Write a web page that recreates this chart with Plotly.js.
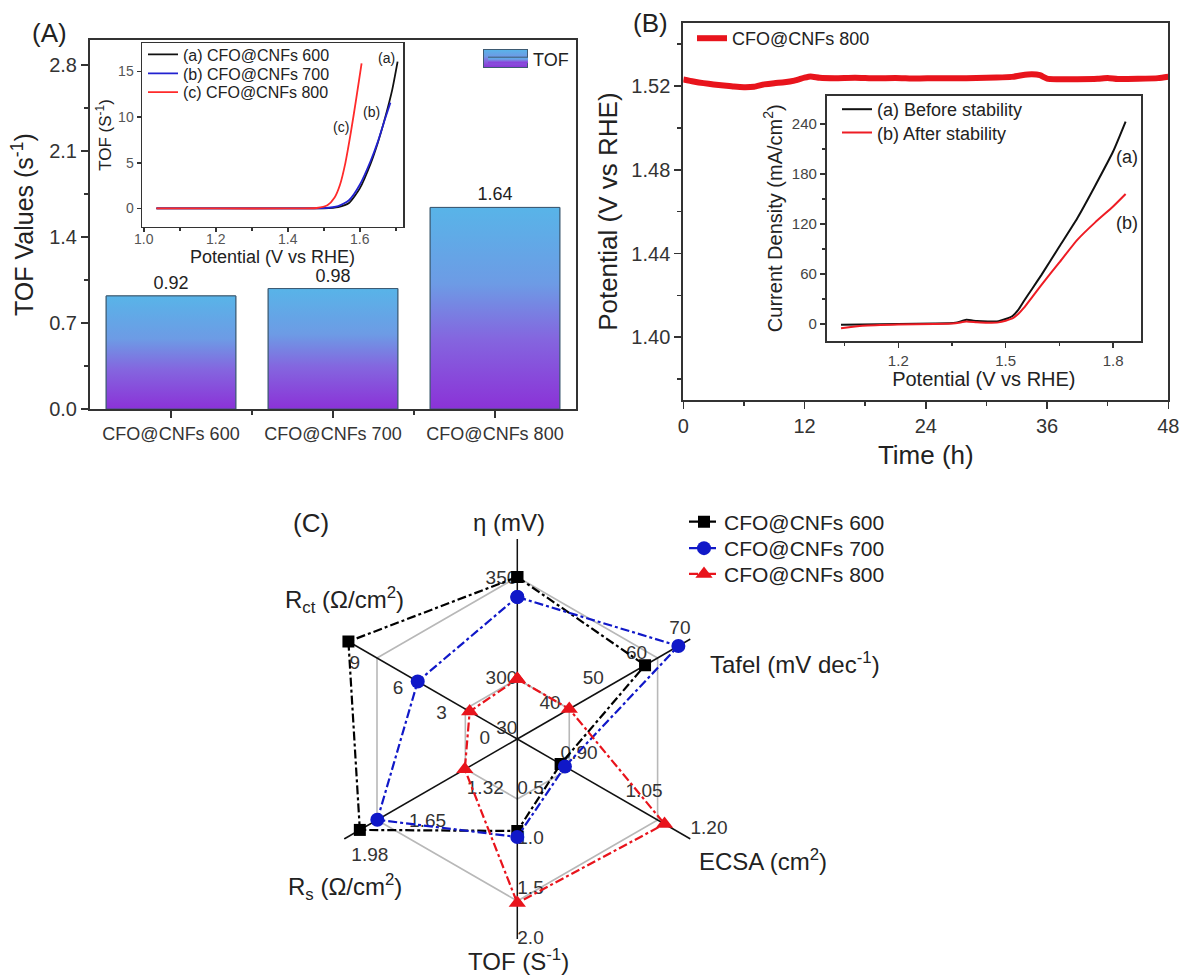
<!DOCTYPE html>
<html><head><meta charset="utf-8">
<script src="https://cdn.plot.ly/plotly-3.0.1.min.js"></script>
<style>html,body{margin:0;padding:0;background:#fff}#chart{width:1181px;height:977px}</style>
</head><body><div id="chart"></div>
<script>
// ---------- Panel A : TOF bars ----------
const tofCategories = ['CFO@CNFs 600', 'CFO@CNFs 700', 'CFO@CNFs 800'];
const tofValues = [0.92, 0.98, 1.64];
const tofTickVals = [0, 0.7, 1.4, 2.1, 2.8];
const tofTickText = ['0.0', '0.7', '1.4', '2.1', '2.8'];

// ---------- Panel A inset : TOF vs potential ----------
const insetA600X = [1.035, 1.2, 1.4, 1.5, 1.54, 1.57, 1.6, 1.63, 1.65, 1.67, 1.69, 1.705];
const insetA600Y = [0, 0, 0, 0.02, 0.15, 0.6, 2.2, 4.9, 7.2, 9.9, 13.0, 16.1];
const insetA700X = [1.035, 1.2, 1.4, 1.5, 1.54, 1.57, 1.6, 1.63, 1.65, 1.67, 1.685];
const insetA700Y = [0, 0, 0, 0.03, 0.25, 0.9, 2.6, 5.2, 7.3, 9.8, 11.6];
const insetA800X = [1.035, 1.2, 1.4, 1.48, 1.51, 1.53, 1.545, 1.56, 1.575, 1.59, 1.605];
const insetA800Y = [0, 0, 0, 0.05, 0.35, 1.2, 2.6, 5.0, 8.3, 12.0, 15.9];
const insetANames = ['(a) CFO@CNFs 600', '(b) CFO@CNFs 700', '(c) CFO@CNFs 800'];

// ---------- Panel B : stability ----------
const stabTime = [0,1,2,3,4,5,6,7,8,9,10,11,12,12.6,13.5,15,17,19,21,23,25,27,29,31,32.5,33.5,34.5,35.3,36,37,39,41,42,43,45,47,48];
const stabPotential = [1.5232,1.5222,1.5214,1.5208,1.5203,1.5198,1.5195,1.5197,1.5208,1.5214,1.5218,1.5226,1.5240,1.5246,1.5240,1.5238,1.5240,1.5237,1.5239,1.5236,1.5238,1.5237,1.5239,1.5241,1.5244,1.5252,1.5256,1.5252,1.5236,1.5233,1.5233,1.5235,1.5239,1.5234,1.5235,1.5238,1.5245];

// ---------- Panel B inset : LSV before / after ----------
const lsvPotential = [1.04,1.1,1.2,1.3,1.36,1.39,1.42,1.45,1.48,1.5,1.52,1.535,1.55,1.575,1.6,1.65,1.7,1.75,1.8,1.835];
const lsvBefore = [-1,-0.5,0,0.5,1.5,5,3.5,3,3.5,6,10,17,27,43,59,93,127,166,207,243];
const lsvAfter = [-5,-2,-0.5,0,1,3,2,1.5,2,4,7,12,19,33,47,74,101,122,141,156];

// ---------- Panel C : radar ----------
const radarAxes = ['η', 'Tafel', 'ECSA', 'TOF', 'Rs', 'Rct'];
const radarAngle = [0, 60, 120, 180, 240, 300];
const radarMin = [270, 30, 0.80, 0.0, 0.99, 0];
const radarMax = [370, 70, 1.20, 2.0, 1.98, 12];
const radar600 = [351, 59.5, 0.90, 0.92, 1.89, 11.7];
const radar700 = [341, 67.2, 0.91, 0.98, 1.79, 6.9];
const radar800 = [300, 42, 1.14, 1.64, 1.29, 3.3];
const radarTicks = [
  ['300', '350'],
  ['30', '40', '50', '60', '70'],
  ['0.90', '1.05', '1.20'],
  ['0.5', '1.0', '1.5', '2.0'],
  ['1.32', '1.65', '1.98'],
  ['0', '3', '6', '9']
];
const radarGrid = [0.3, 0.81];

// ---------- helpers (layout only) ----------
const W = 1181, H = 977;
const px = x => x / W;
const py = y => 1 - y / H;
const FONT = 'Liberation Sans, Arial, sans-serif';
const AX = '#333';

const traces = [];

// Panel A bars (base bars carry value labels)
traces.push({
  type: 'bar', x: tofCategories.map((c, i) => i), y: tofValues, width: 0.8,
  marker: {color: '#7590e2', line: {color: '#3d5a72', width: 1}},
  text: tofValues.map(v => v.toFixed(2)), textposition: 'outside',
  textfont: {size: 18, color: '#222'}, cliponaxis: false,
  showlegend: false, hoverinfo: 'skip', xaxis: 'x', yaxis: 'y'
});
const barScale = [[0, '#8b32d7'], [0.35, '#8466df'], [0.62, '#6d9be5'], [1, '#58b4e8']];
tofValues.forEach((v, i) => {
  traces.push({
    type: 'scatter', mode: 'lines', xaxis: 'x', yaxis: 'y',
    x: [i - 0.4, i - 0.4, i + 0.4, i + 0.4, i - 0.4],
    y: [0, v, v, 0, 0],
    fill: 'toself',
    fillgradient: {type: 'vertical', colorscale: barScale},
    line: {color: '#3d5a72', width: 1},
    name: 'TOF', showlegend: i === 0, legend: 'legend', hoverinfo: 'skip'
  });
});

// Panel A inset
const insetALegends = ['legend2', 'legend6', 'legend7'];
[[insetA600X, insetA600Y, '#111111'], [insetA700X, insetA700Y, '#2222d0'], [insetA800X, insetA800Y, '#ff2a2a']].forEach((d, k) => {
  traces.push({
    type: 'scatter', mode: 'lines', x: d[0], y: d[1], xaxis: 'x2', yaxis: 'y2',
    line: {color: d[2], width: 1.8, shape: 'spline', smoothing: 0.6},
    name: insetANames[k], legend: insetALegends[k], hoverinfo: 'skip'
  });
});

// Panel B
traces.push({
  type: 'scatter', mode: 'lines', x: stabTime, y: stabPotential, xaxis: 'x3', yaxis: 'y3',
  line: {color: '#e8141c', width: 6, shape: 'spline', smoothing: 0.5},
  name: 'CFO@CNFs 800', legend: 'legend3', hoverinfo: 'skip'
});

// Panel B inset
traces.push({
  type: 'scatter', mode: 'lines', x: lsvPotential, y: lsvBefore, xaxis: 'x4', yaxis: 'y4',
  line: {color: '#111111', width: 2, shape: 'spline', smoothing: 0.5},
  name: '(a) Before stability', legend: 'legend4', hoverinfo: 'skip'
});
traces.push({
  type: 'scatter', mode: 'lines', x: lsvPotential, y: lsvAfter, xaxis: 'x4', yaxis: 'y4',
  line: {color: '#ee1c24', width: 2, shape: 'spline', smoothing: 0.5},
  name: '(b) After stability', legend: 'legend8', hoverinfo: 'skip'
});

// Panel C radar: grid hexagons
radarGrid.forEach(g => {
  traces.push({
    type: 'scatterpolar', subplot: 'polar', mode: 'lines',
    r: radarAngle.concat([radarAngle[0]]).map(() => g),
    theta: radarAngle.concat([radarAngle[0] + 360]),
    line: {color: '#b8b8b8', width: 1.6}, showlegend: false, hoverinfo: 'skip', cliponaxis: false
  });
});
// spokes
radarAngle.forEach(a => {
  traces.push({
    type: 'scatterpolar', subplot: 'polar', mode: 'lines', r: [0, 1], theta: [a, a],
    line: {color: '#111', width: 1.5}, showlegend: false, hoverinfo: 'skip', cliponaxis: false
  });
});
// tick labels along each axis (an invisible marker sets the label gap)
const tickPos = ['middle left', 'top left', 'top right', 'middle right', 'bottom right', 'middle left'];
const tickGap = [0, 0, 0, 0, 10, 42];
radarTicks.forEach((tk, i) => {
  traces.push({
    type: 'scatterpolar', subplot: 'polar', mode: tickGap[i] ? 'markers+text' : 'text',
    r: tk.map(t => (parseFloat(t) - radarMin[i]) / (radarMax[i] - radarMin[i])),
    theta: tk.map(() => radarAngle[i]), text: tk, textposition: tickPos[i],
    marker: {size: tickGap[i] || 1, color: 'rgba(0,0,0,0)'},
    textfont: {size: 19, color: '#333'}, showlegend: false, hoverinfo: 'skip', cliponaxis: false
  });
});
// data series
const norm = arr => arr.map((v, i) => (v - radarMin[i]) / (radarMax[i] - radarMin[i]));
const closeR = arr => { const n = norm(arr); return n.concat([n[0]]); };
const closeT = radarAngle.concat([radarAngle[0] + 360]);
[[radar600, '#000000', 'square', 12, 'CFO@CNFs 600', 'legend5'],
 [radar700, '#1018c8', 'circle', 14, 'CFO@CNFs 700', 'legend9'],
 [radar800, '#e8141c', 'triangle-up', 15, 'CFO@CNFs 800', 'legend10']].forEach(s => {
  traces.push({
    type: 'scatterpolar', subplot: 'polar', mode: 'lines+markers',
    r: closeR(s[0]), theta: closeT,
    line: {color: s[1], width: 2.2, dash: 'dashdot'},
    marker: {color: s[1], symbol: s[2], size: s[3]},
    name: s[4], legend: s[5], hoverinfo: 'skip', cliponaxis: false
  });
});

const axisBase = {
  showline: true, linecolor: AX, linewidth: 2, mirror: true, showgrid: false, zeroline: false,
  ticks: 'outside', ticklen: 7, tickwidth: 1.5, tickcolor: AX, automargin: false
};
const legendBase = {bgcolor: 'rgba(0,0,0,0)', borderwidth: 0, xanchor: 'left', yanchor: 'top', tracegroupgap: 0};
const lg = (x, y, size) => Object.assign({}, legendBase, {x: px(x), y: py(y), font: {size: size, color: '#222'}});

const ann = (text, x, y, size, extra) => Object.assign({
  text: text, x: px(x), y: py(y), xref: 'paper', yref: 'paper', showarrow: false,
  xanchor: 'center', yanchor: 'middle', font: {size: size, color: '#222'}
}, extra || {});
const annD = (text, x, y, xr, yr, size) => ({
  text: text, x: x, y: y, xref: xr, yref: yr, showarrow: false,
  xanchor: 'center', yanchor: 'middle', font: {size: size, color: '#222'}
});

// gradient key for the TOF legend (legend key only)
const swatchSvg = "<svg xmlns='http://www.w3.org/2000/svg' width='45' height='19'><defs><linearGradient id='g' x1='0' y1='1' x2='0' y2='0'>" +
  barScale.map(s => "<stop offset='" + s[0] + "' stop-color='" + s[1] + "'/>").join('') +
  "</linearGradient></defs><rect x='0.5' y='0.5' width='44' height='18' fill='url(#g)' stroke='#3d5a72' stroke-width='1'/></svg>";

const layout = {
  width: W, height: H, margin: {l: 0, r: 0, t: 0, b: 0},
  paper_bgcolor: '#fff', plot_bgcolor: 'rgba(0,0,0,0)',
  font: {family: FONT, color: '#222'},
  showlegend: true,
  xaxis: Object.assign({}, axisBase, {
    domain: [px(90), px(576)], anchor: 'y', range: [-0.5, 2.5],
    tickmode: 'array', tickvals: [0, 1, 2], ticktext: tofCategories,
    tickfont: {size: 18, color: '#333'},
    minor: {tickmode: 'array', tickvals: [0.5, 1.5], ticks: 'outside', ticklen: 4, tickcolor: AX}
  }),
  yaxis: Object.assign({}, axisBase, {
    domain: [py(409), py(40.3)], anchor: 'x', range: [0, 3.0],
    tickmode: 'array', tickvals: tofTickVals, ticktext: tofTickText,
    tickfont: {size: 20, color: '#333'},
    minor: {tickmode: 'array', tickvals: [0.35, 1.05, 1.75, 2.45], ticks: 'outside', ticklen: 4, tickcolor: AX},
    title: {text: 'TOF Values (s<sup>-1</sup>)', font: {size: 25, color: '#222'}, standoff: 8}
  }),
  xaxis2: Object.assign({}, axisBase, {
    domain: [px(142), px(403)], anchor: 'y2', range: [0.995, 1.72], linewidth: 1.5,
    tickmode: 'array', tickvals: [1.0, 1.2, 1.4, 1.6], ticktext: ['1.0', '1.2', '1.4', '1.6'], ticklen: 4,
    ticklabelstandoff: -5,
    tickfont: {size: 14, color: '#555'},
    minor: {tickmode: 'array', tickvals: [1.1, 1.3, 1.5, 1.7], ticks: 'outside', ticklen: 3, tickcolor: AX},
    title: {text: 'Potential (V vs RHE)', font: {size: 18, color: '#222'}, standoff: 0}
  }),
  yaxis2: Object.assign({}, axisBase, {
    domain: [py(226.7), py(43.3)], anchor: 'x2', range: [-2, 18.1], linewidth: 1.5,
    tickmode: 'array', tickvals: [0, 5, 10, 15], ticklen: 4,
    tickfont: {size: 14, color: '#555'},
    title: {text: 'TOF (S<sup>-1</sup>)', font: {size: 17, color: '#222'}, standoff: 2}
  }),
  xaxis3: Object.assign({}, axisBase, {
    domain: [px(683.3), px(1168.3)], anchor: 'y3', range: [0, 48],
    tickmode: 'array', tickvals: [0, 12, 24, 36, 48],
    tickfont: {size: 20, color: '#333'},
    minor: {tickmode: 'array', tickvals: [6, 18, 30, 42], ticks: 'outside', ticklen: 4, tickcolor: AX},
    title: {text: 'Time (h)', font: {size: 26, color: '#222'}, standoff: 10}
  }),
  yaxis3: Object.assign({}, axisBase, {
    domain: [py(400), py(23.3)], anchor: 'x3', range: [1.37, 1.55],
    tickmode: 'array', tickvals: [1.40, 1.44, 1.48, 1.52], ticktext: ['1.40', '1.44', '1.48', '1.52'],
    tickfont: {size: 20, color: '#333'},
    minor: {tickmode: 'array', tickvals: [1.38, 1.42, 1.46, 1.50, 1.54], ticks: 'outside', ticklen: 4, tickcolor: AX},
    title: {text: 'Potential (V vs RHE)', font: {size: 26, color: '#222'}, standoff: 6}
  }),
  xaxis4: Object.assign({}, axisBase, {
    domain: [px(826.7), px(1141)], anchor: 'y4', range: [1.0, 1.878], linewidth: 1.8,
    tickmode: 'array', tickvals: [1.2, 1.5, 1.8], ticklen: 5,
    tickfont: {size: 15, color: '#444'},
    minor: {tickmode: 'array', tickvals: [1.05, 1.35, 1.65], ticks: 'outside', ticklen: 3, tickcolor: AX},
    title: {text: 'Potential (V vs RHE)', font: {size: 20, color: '#222'}, standoff: 4}
  }),
  yaxis4: Object.assign({}, axisBase, {
    domain: [py(340.7), py(95.7)], anchor: 'x4', range: [-20, 274], linewidth: 1.8,
    tickmode: 'array', tickvals: [0, 60, 120, 180, 240], ticklen: 5,
    tickfont: {size: 15, color: '#444'},
    minor: {tickmode: 'array', tickvals: [30, 90, 150, 210], ticks: 'outside', ticklen: 3, tickcolor: AX},
    title: {text: 'Current Density (mA/cm<sup>2</sup>)', font: {size: 20, color: '#222'}, standoff: 4}
  }),
  polar: {
    domain: {x: [px(317.3), px(717.3)], y: [py(939), py(539)]},
    bgcolor: 'rgba(0,0,0,0)',
    radialaxis: {range: [0, 1], visible: false},
    angularaxis: {rotation: 90, direction: 'clockwise', visible: false}
  },
  legend: Object.assign(lg(483, 41, 18), {itemwidth: 40}),
  legend2: lg(143, 37.5, 16),
  legend6: lg(143, 56.5, 16),
  legend7: lg(143, 75.2, 16),
  legend3: lg(692, 20, 18),
  legend4: lg(837, 91, 18),
  legend8: lg(837, 114.3, 18),
  legend5: lg(684, 501.5, 21),
  legend9: lg(684, 528, 21),
  legend10: lg(684, 553.8, 21),
  images: [{
    source: 'data:image/svg+xml;charset=utf-8,' + encodeURIComponent(swatchSvg),
    xref: 'paper', yref: 'paper', x: px(483), y: py(49), sizex: 45 / W, sizey: 19 / H,
    xanchor: 'left', yanchor: 'top', sizing: 'stretch', layer: 'above'
  }],
  annotations: [
    ann('(A)', 49, 33, 26),
    ann('(B)', 650, 23, 26),
    ann('(C)', 311, 523, 26),
    annD('(a)', 1.674, 16.5, 'x2', 'y2', 14),
    annD('(b)', 1.633, 10.6, 'x2', 'y2', 14),
    annD('(c)', 1.549, 8.9, 'x2', 'y2', 14),
    annD('(a)', 1.84, 201, 'x4', 'y4', 18),
    annD('(b)', 1.84, 121, 'x4', 'y4', 18),
    ann('η (mV)', 509, 522, 24),
    ann('R<sub>ct</sub> (Ω/cm<sup>2</sup>)', 345, 600, 24),
    ann('Tafel (mV dec<sup>-1</sup>)', 795, 663, 24),
    ann('ECSA (cm<sup>2</sup>)', 697, 860, 24, {xanchor: 'left'}),
    ann('TOF (S<sup>-1</sup>)', 518, 960, 24),
    ann('R<sub>s</sub> (Ω/cm<sup>2</sup>)', 345, 887, 24)
  ]
};

Plotly.newPlot('chart', traces, layout, {staticPlot: true, displayModeBar: false});
</script>
</body></html>
